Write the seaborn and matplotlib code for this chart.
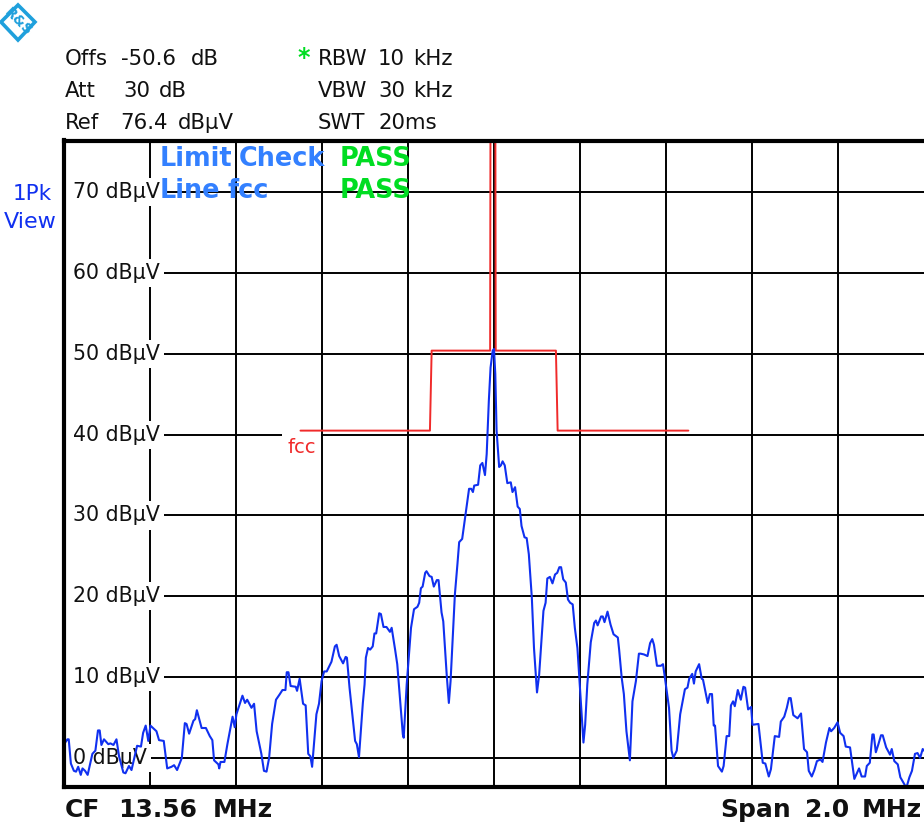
import numpy as np
import pandas as pd
import matplotlib
matplotlib.use('Agg')
import matplotlib.pyplot as plt
from matplotlib.patches import Polygon
import seaborn as sns

# trace: offset from CF in kHz, level in dBuV
trace_freq = [
    -1000, -992, -989, -984, -977, -972, -967, -961, -957, -951, -945, -934, -927, -921, -917, -913,
    -907, -897, -892, -885, -878, -872, -862, -857, -849, -843, -830, -821, -816, -810, -804, -799,
    -785, -779, -768, -760, -750, -744, -737, -726, -719, -715, -709, -699, -695, -691, -680, -670,
    -661, -655, -651, -641, -639, -636, -627, -620, -608, -603, -599, -585, -579, -574, -564, -558,
    -552, -541, -535, -529, -523, -516, -507, -498, -492, -485, -482, -478, -473, -461, -458, -452,
    -444, -438, -432, -427, -423, -413, -407, -401, -395, -389, -378, -370, -366, -360, -351, -345,
    -342, -336, -323, -319, -314, -305, -301, -298, -293, -288, -282, -278, -274, -267, -263, -257,
    -250, -242, -238, -230, -225, -212, -210, -203, -193, -186, -178, -174, -170, -166, -160, -157,
    -150, -145, -140, -133, -129, -122, -118, -110, -105, -101, -91, -85, -81, -74, -71, -65,
    -58, -53, -49, -46, -37, -32, -27, -21, -17, -12, -8, -3, 0, 3, 6, 12,
    16, 20, 25, 31, 39, 43, 49, 55, 60, 64, 71, 76, 81, 88, 93, 100,
    105, 115, 120, 124, 130, 136, 142, 147, 152, 156, 161, 167, 172, 177, 183, 188,
    194, 202, 208, 212, 217, 225, 233, 237, 241, 249, 253, 257, 264, 271, 278, 288,
    291, 297, 302, 308, 316, 322, 330, 337, 341, 349, 357, 363, 368, 372, 379, 388,
    393, 397, 407, 413, 417, 425, 433, 444, 450, 454, 461, 465, 469, 477, 483, 486,
    497, 502, 507, 511, 514, 521, 530, 534, 541, 547, 551, 556, 560, 567, 574, 580,
    584, 591, 598, 601, 615, 625, 631, 639, 644, 653, 663, 667, 675, 681, 686, 690,
    696, 706, 714, 721, 728, 732, 739, 745, 751, 759, 764, 772, 780, 784, 791, 799,
    805, 813, 818, 828, 838, 849, 855, 863, 867, 874, 880, 883, 888, 894, 900, 904,
    912, 921, 925, 931, 939, 945, 959, 966, 972, 979, 985, 991, 997, 1000,
]
trace_level = [
    1.7, 2.3, 2.3, -0.7, -1.6, -1.7, -1.1, -2.1, -1.3, -1.6, -2.1, 0.5, 0.9, 3.4, 3.4, 1.6,
    2.3, 1.7, 1.8, 1.6, 2.3, 0.2, -1.8, -1.9, -1.0, -1.5, 1.5, 1.4, 3.1, 4.0, 2.1, 4.0,
    3.3, 2.2, 2.1, -1.3, -1.1, -0.9, -1.5, 0.0, 4.3, 4.2, 3.0, 4.6, 4.8, 5.9, 3.7, 3.7,
    2.7, 2.2, -0.3, -0.8, -1.3, -0.5, -0.5, 1.7, 5.1, 3.8, 5.4, 7.7, 6.8, 7.2, 6.2, 6.7,
    3.3, 0.5, -1.6, -1.7, 0.0, 4.2, 7.2, 7.9, 8.4, 8.4, 10.6, 10.6, 8.9, 8.8, 8.3, 9.8,
    6.7, 6.5, 0.5, 0.2, -1.1, 5.4, 6.7, 9.5, 10.7, 10.7, 11.9, 13.8, 14.0, 12.6, 11.7, 12.5,
    12.4, 8.7, 2.1, 1.7, 0.1, 6.8, 9.1, 12.4, 13.6, 13.4, 13.8, 15.4, 15.4, 17.9, 17.8, 16.2,
    16.2, 15.6, 16.1, 13.4, 11.6, 2.9, 2.5, 9.1, 16.1, 18.4, 18.7, 19.2, 21.0, 21.2, 22.9, 23.1,
    22.5, 22.4, 21.2, 22.0, 22.0, 18.0, 16.9, 10.3, 6.8, 9.5, 20.2, 24.0, 26.7, 27.1, 28.3, 30.6,
    33.3, 33.3, 32.9, 33.7, 33.8, 36.2, 36.5, 35.0, 37.6, 44.2, 48.3, 50.4, 50.6, 47.5, 40.5, 36.0,
    36.2, 36.7, 36.2, 34.0, 34.1, 32.9, 33.5, 31.1, 30.8, 28.7, 27.3, 27.2, 25.2, 19.8, 13.6, 8.1,
    10.3, 18.2, 19.2, 22.2, 22.4, 21.6, 22.7, 22.9, 23.6, 23.6, 22.1, 21.7, 19.6, 19.2, 19.0, 16.1,
    13.6, 7.0, 1.9, 4.1, 9.1, 14.3, 16.7, 17.0, 16.4, 17.5, 17.5, 16.8, 18.1, 16.5, 15.3, 14.9,
    13.4, 9.9, 7.9, 3.3, -0.3, 7.0, 9.5, 12.9, 12.9, 12.8, 12.6, 14.2, 14.7, 14.0, 11.4, 11.4,
    11.6, 10.1, 6.2, 0.9, 0.0, 0.9, 5.4, 8.5, 8.7, 9.8, 10.4, 9.2, 10.7, 11.6, 9.8, 9.7,
    6.8, 7.9, 7.9, 4.0, 4.0, -1.0, -1.7, -1.0, 2.7, 2.7, 6.5, 7.0, 6.4, 8.4, 7.2, 8.8,
    8.7, 6.0, 6.3, 4.1, 4.2, -0.6, -0.7, -2.3, -1.4, 2.7, 2.6, 4.5, 5.1, 6.2, 7.4, 7.4,
    5.3, 4.9, 5.5, 1.1, 0.7, -1.6, -2.3, -1.5, -0.4, -0.2, -0.5, 1.9, 3.7, 3.3, 3.7, 4.4,
    3.1, 2.7, 1.4, 1.3, -2.6, -1.3, -2.3, -2.3, -1.0, -0.6, 2.9, 2.9, 0.7, 1.7, 2.8, 2.8,
    1.3, 0.4, 1.1, -0.4, -0.8, -2.4, -3.7, -2.4, -1.6, 0.5, 0.6, 0.0, 1.1, 0.9,
]

# fcc limit line
limit_freq = [-450, -149, -145, -9, -8, 3, 4, 144, 148, 452]
limit_level = [40.5, 40.5, 50.4, 50.4, 85, 85, 50.4, 50.4, 40.5, 40.5]

grid_freq = [-800, -600, -400, -200, 0, 200, 400, 600, 800]
grid_level = [0, 10, 20, 30, 40, 50, 60, 70]
level_labels = ['0 dBµV', '10 dBµV', '20 dBµV', '30 dBµV', '40 dBµV', '50 dBµV', '60 dBµV', '70 dBµV']

BLUE = '#1030f0'
RED = '#f02a2a'
LIMIT_BLUE = '#3380ff'
GREEN = '#00dd22'
INK = '#111111'

sns.set_style('white')
plt.rcParams['font.family'] = ['DejaVu Sans']

fig = plt.figure(figsize=(9.24, 8.26), dpi=100)
ax = fig.add_axes([64 / 924, 39 / 826, 860 / 924, 646.5 / 826])

df_trace = pd.DataFrame({'freq': trace_freq, 'level': trace_level})
df_limit = pd.DataFrame({'freq': limit_freq, 'level': limit_level})
sns.lineplot(data=df_limit, x='freq', y='level', sort=False, estimator=None, color=RED, lw=1.4, ax=ax, zorder=3)
sns.lineplot(data=df_trace, x='freq', y='level', sort=False, estimator=None, color=BLUE, lw=1.5, ax=ax, zorder=4)

ax.set_xlim(-1000, 1000)
ax.set_ylim(-3.6, 76.4)
ax.set_xticks(grid_freq)
ax.set_yticks(grid_level)
ax.set_xlabel('')
ax.set_ylabel('')
ax.tick_params(left=False, bottom=False, labelleft=False, labelbottom=False)
ax.grid(True, axis='x', color='black', lw=1.4)
ax.set_axisbelow(True)

for side in ['left', 'top', 'bottom']:
    ax.spines[side].set_linewidth(3)
    ax.spines[side].set_color('black')
    ax.spines[side].set_zorder(5)
ax.spines['right'].set_visible(False)

# horizontal grid starts right of the level label, the label box blanks the vertical line
for lev, lab in zip(grid_level, level_labels):
    ax.axhline(lev, xmin=(86 if lev == 0 else 99) / 860, color='black', lw=1.4, zorder=1)
    ax.annotate(lab, xy=(0, lev), xycoords=('axes fraction', 'data'), xytext=(9, 0),
                textcoords='offset pixels', fontsize=14.8, va='center', ha='left', color=INK, zorder=2,
                bbox=dict(facecolor='white', edgecolor='none', pad=3))

ax.text(-481, 38.4, 'fcc', color=RED, fontsize=14, ha='left', va='center', zorder=2,
        bbox=dict(facecolor='white', edgecolor='none', pad=4))


def px_text(x, y, s, **kw):
    fig.text(x / 924, 1 - y / 826, s, va='center', **kw)


# header words placed one by one, the analyzer font spaces them wide
header = [
    (65, 59, 'Offs'), (121, 59, '-50.6'), (191, 59, 'dB'),
    (65, 91, 'Att'), (123, 91, '30'), (159, 91, 'dB'),
    (65, 123, 'Ref'), (120, 123, '76.4'), (178, 123, 'dBµV'),
    (318, 59, 'RBW'), (378, 59, '10'), (413, 59, 'kHz'),
    (318, 91, 'VBW'), (378, 91, '30'), (413, 91, 'kHz'),
    (318, 123, 'SWT'), (378, 123, '20ms'),
]
for hx, hy, word in header:
    px_text(hx, hy, word, fontsize=15.3, color=INK)
px_text(297, 58, '*', fontsize=17, color=GREEN, fontweight='bold')

px_text(13, 194, '1Pk', fontsize=15.5, color=BLUE)
px_text(4, 222, 'View', fontsize=16, color=BLUE)

for hx, hy, word, col in [(160, 159, 'Limit', LIMIT_BLUE), (239, 159, 'Check', LIMIT_BLUE),
                          (160, 191, 'Line', LIMIT_BLUE), (227, 191, 'fcc', LIMIT_BLUE),
                          (340, 159, 'PASS', GREEN), (340, 191, 'PASS', GREEN)]:
    px_text(hx, hy, word, fontsize=18.4, fontweight='bold', color=col, zorder=6)

for hx, word in [(65, 'CF'), (118, '13.56'), (213, 'MHz'), (720, 'Span'), (805, '2.0'), (862, 'MHz')]:
    px_text(hx, 810, word, fontsize=18, fontweight='bold', color=INK)

# R&S logo
LOGO = '#1fa0dc'
fig.add_artist(Polygon([(1 / 924, 1 - 22 / 826), (18 / 924, 1 - 5 / 826), (35 / 924, 1 - 22 / 826),
                        (18 / 924, 1 - 40 / 826)], closed=True, transform=fig.transFigure,
                       facecolor='white', edgecolor=LOGO, lw=2.6))
fig.text(18 / 924, 1 - 22 / 826, 'R&S', color=LOGO, fontsize=10, rotation=-45, ha='center', va='center',
         fontweight='bold')

fig.savefig('out.png', dpi=100)
